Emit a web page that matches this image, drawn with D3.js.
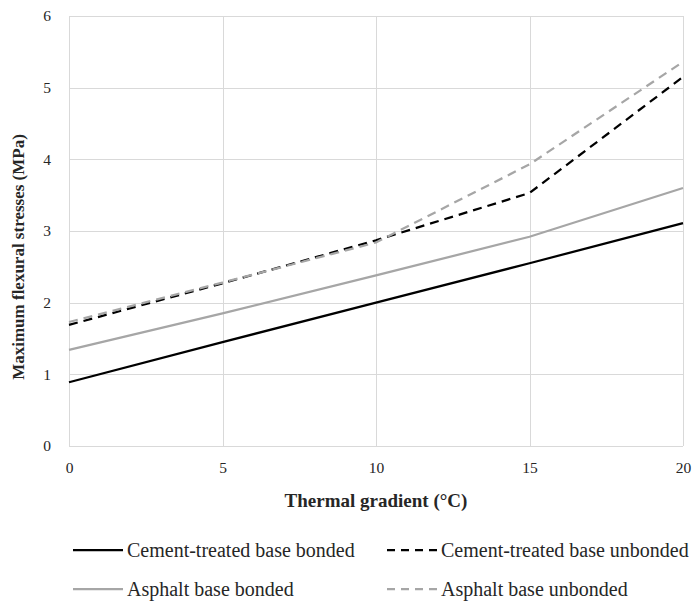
<!DOCTYPE html>
<html>
<head>
<meta charset="utf-8">
<script src="https://cdn.jsdelivr.net/npm/d3@7"></script>
<style>
  body { margin: 0; background: #fff; }
</style>
</head>
<body>
<div id="chart"></div>
<script>
// thermal gradient values (°C)
const gradients = [0, 5, 10, 15, 20];

// maximum flexural stress (MPa) per configuration
const cementBonded = [0.89, 1.45, 2.0, 2.55, 3.11];
const cementUnbonded = [1.69, 2.27, 2.87, 3.53, 5.15];
const asphaltBonded = [1.34, 1.85, 2.38, 2.92, 3.6];
const asphaltUnbonded = [1.73, 2.28, 2.84, 3.93, 5.36];

const seriesNames = [
    "Cement-treated base bonded",
    "Cement-treated base unbonded",
    "Asphalt base bonded",
    "Asphalt base unbonded"
];

const xTicks = [0, 5, 10, 15, 20];
const yTicks = [0, 1, 2, 3, 4, 5, 6];

const width = 697;
const height = 601;
const margin = { top: 16, right: 14, bottom: 155, left: 69 };
const serif = "'Liberation Serif', 'Times New Roman', serif";
const textColor = "#262626";

const series = [
    { name: seriesNames[0], values: cementBonded, color: "#000000", dash: null },
    { name: seriesNames[1], values: cementUnbonded, color: "#000000", dash: "9,6" },
    { name: seriesNames[2], values: asphaltBonded, color: "#a6a6a6", dash: null },
    { name: seriesNames[3], values: asphaltUnbonded, color: "#a6a6a6", dash: "9,6" }
];

const svg = d3.select("#chart").append("svg")
    .attr("width", width)
    .attr("height", height)
    .attr("font-family", serif);

const x = d3.scaleLinear()
    .domain([0, 20])
    .range([margin.left, width - margin.right]);

const y = d3.scaleLinear()
    .domain([0, 6])
    .range([height - margin.bottom, margin.top]);

// gridlines
const grid = svg.append("g")
    .attr("stroke", "#d9d9d9")
    .attr("stroke-width", 1);

grid.selectAll("line.h")
    .data(yTicks)
    .join("line")
    .attr("class", "h")
    .attr("x1", x(0))
    .attr("x2", x(20))
    .attr("y1", d => Math.round(y(d)) + 0.5)
    .attr("y2", d => Math.round(y(d)) + 0.5);

grid.selectAll("line.v")
    .data(xTicks)
    .join("line")
    .attr("class", "v")
    .attr("y1", y(0))
    .attr("y2", y(6))
    .attr("x1", d => Math.round(x(d)) + 0.5)
    .attr("x2", d => Math.round(x(d)) + 0.5);

// axes (labels only, Excel style)
const xAxis = svg.append("g")
    .attr("transform", `translate(0,${y(0)})`)
    .call(d3.axisBottom(x).tickValues(xTicks).tickFormat(d3.format("d")).tickSize(0).tickPadding(16))
    .attr("font-family", serif)
    .attr("font-size", 15.5);
xAxis.select(".domain").remove();
xAxis.selectAll("text").attr("fill", textColor);

const yAxis = svg.append("g")
    .attr("transform", `translate(${x(0)},0)`)
    .call(d3.axisLeft(y).tickValues(yTicks).tickFormat(d3.format("d")).tickSize(0).tickPadding(18))
    .attr("font-family", serif)
    .attr("font-size", 15.5);
yAxis.select(".domain").remove();
yAxis.selectAll("text").attr("fill", textColor);

// axis titles
svg.append("text")
    .attr("x", (x(0) + x(20)) / 2)
    .attr("y", 507)
    .attr("text-anchor", "middle")
    .attr("font-size", 19)
    .attr("font-weight", "bold")
    .attr("fill", textColor)
    .text("Thermal gradient (°C)");

svg.append("text")
    .attr("transform", "translate(24,257) rotate(-90)")
    .attr("text-anchor", "middle")
    .attr("font-size", 17)
    .attr("font-weight", "bold")
    .attr("fill", textColor)
    .text("Maximum flexural stresses (MPa)");

// lines
const line = d3.line()
    .x((d, i) => x(gradients[i]))
    .y(d => y(d));

svg.append("g")
    .selectAll("path")
    .data(series)
    .join("path")
    .attr("fill", "none")
    .attr("stroke", d => d.color)
    .attr("stroke-width", 2.25)
    .attr("stroke-dasharray", d => d.dash)
    .attr("d", d => line(d.values));

// legend, two columns by two rows
const legendPos = [
    { lx: 73, ly: 550 },
    { lx: 387, ly: 550 },
    { lx: 73, ly: 589 },
    { lx: 387, ly: 589 }
];

const legend = svg.append("g")
    .selectAll("g")
    .data(series)
    .join("g")
    .attr("transform", (d, i) => `translate(${legendPos[i].lx},${legendPos[i].ly})`);

legend.append("line")
    .attr("x1", 0)
    .attr("x2", 50)
    .attr("stroke", d => d.color)
    .attr("stroke-width", 2.25)
    .attr("stroke-dasharray", d => d.dash ? "8,6" : null);

legend.append("text")
    .attr("x", 54)
    .attr("dy", "0.33em")
    .attr("font-size", 20)
    .attr("fill", textColor)
    .text(d => d.name);
</script>
</body>
</html>
